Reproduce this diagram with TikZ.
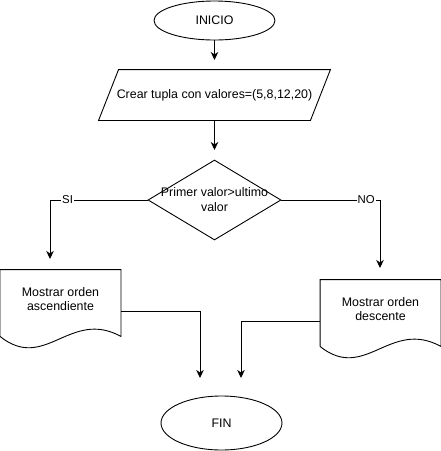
\documentclass[tikz,border=0pt]{standalone}
\usepackage{fontspec}
\setmainfont{Liberation Sans}
\usetikzlibrary{shapes.geometric,arrows.meta,calc}
\begin{document}
\begin{tikzpicture}[x=1pt,y=-1pt,line width=0.9pt,
  font=\fontsize{12.4}{14}\selectfont,
  term/.style={draw,ellipse,minimum width=121pt,minimum height=39pt,inner sep=0pt},
  iobox/.style={minimum width=211pt,minimum height=50pt,inner sep=0pt},
  decision/.style={draw,diamond,minimum width=133pt,minimum height=80pt,inner sep=0pt},
  docbox/.style={minimum width=120pt,minimum height=58pt,inner sep=0pt,align=center},
  arr/.style={-{Stealth[length=8pt,width=7.5pt,inset=2.5pt]}},
  lbl/.style={fill=white,inner sep=1pt,font=\fontsize{11.4}{13}\selectfont}]
\useasboundingbox (0,0) rectangle (441,451);

\node[term] (ini) at (214.5,20.5) {INICIO};
\node[iobox] (tupla) at (214.5,95) {Crear tupla con valores=(5,8,12,20)};
\node[decision,label={[align=center,font=\fontsize{12.4}{15}\selectfont]center:Primer valor>ultimo\\valor}] (dec) at (214.5,200) {};
\node[docbox] (asc) at (60.5,299) {Mostrar orden\\ascendiente};
\node[docbox] (desc) at (380.5,309) {Mostrar orden\\descente};
\node[term,minimum height=54pt] (fin) at (221.5,423) {FIN};

% parallelogram round the tuple node
\draw ($(tupla.south west)+(-10,0)$) -- ($(tupla.north west)+(10,0)$)
  -- ($(tupla.north east)+(10,0)$) -- ($(tupla.south east)+(-10,0)$) -- cycle;

% document shapes with wavy bottom
\foreach \n in {asc,desc}
  \draw ($(\n.south west)+(0,8)$) -- (\n.north west) -- (\n.north east)
    -- ($(\n.south east)+(0,8)$)
    .. controls ($(\n.south west)+(70,-20)$) and ($(\n.south west)+(45,44)$)
    .. ($(\n.south west)+(0,8)$);

% free ends of connectors
\coordinate (a1) at (214.5,60);
\coordinate (a2) at (214.5,150);
\coordinate (si) at (50,259);
\coordinate (no) at (380,268);
\coordinate (f1) at (200,378);
\coordinate (f2) at (241,378);

\draw[arr] (ini.south) -- (a1);
\draw[arr] (tupla.south) -- (a2);
\draw[arr] (dec.west) -| node[lbl,pos=0.41]{SI} (si);
\draw[arr] (dec.east) -| node[lbl,pos=0.43]{NO} (no);
\draw[arr] ($(asc.east)+(0,12)$) -| (f1);
\draw[arr] ($(desc.west)+(0,12)$) -| (f2);
\end{tikzpicture}
\end{document}
